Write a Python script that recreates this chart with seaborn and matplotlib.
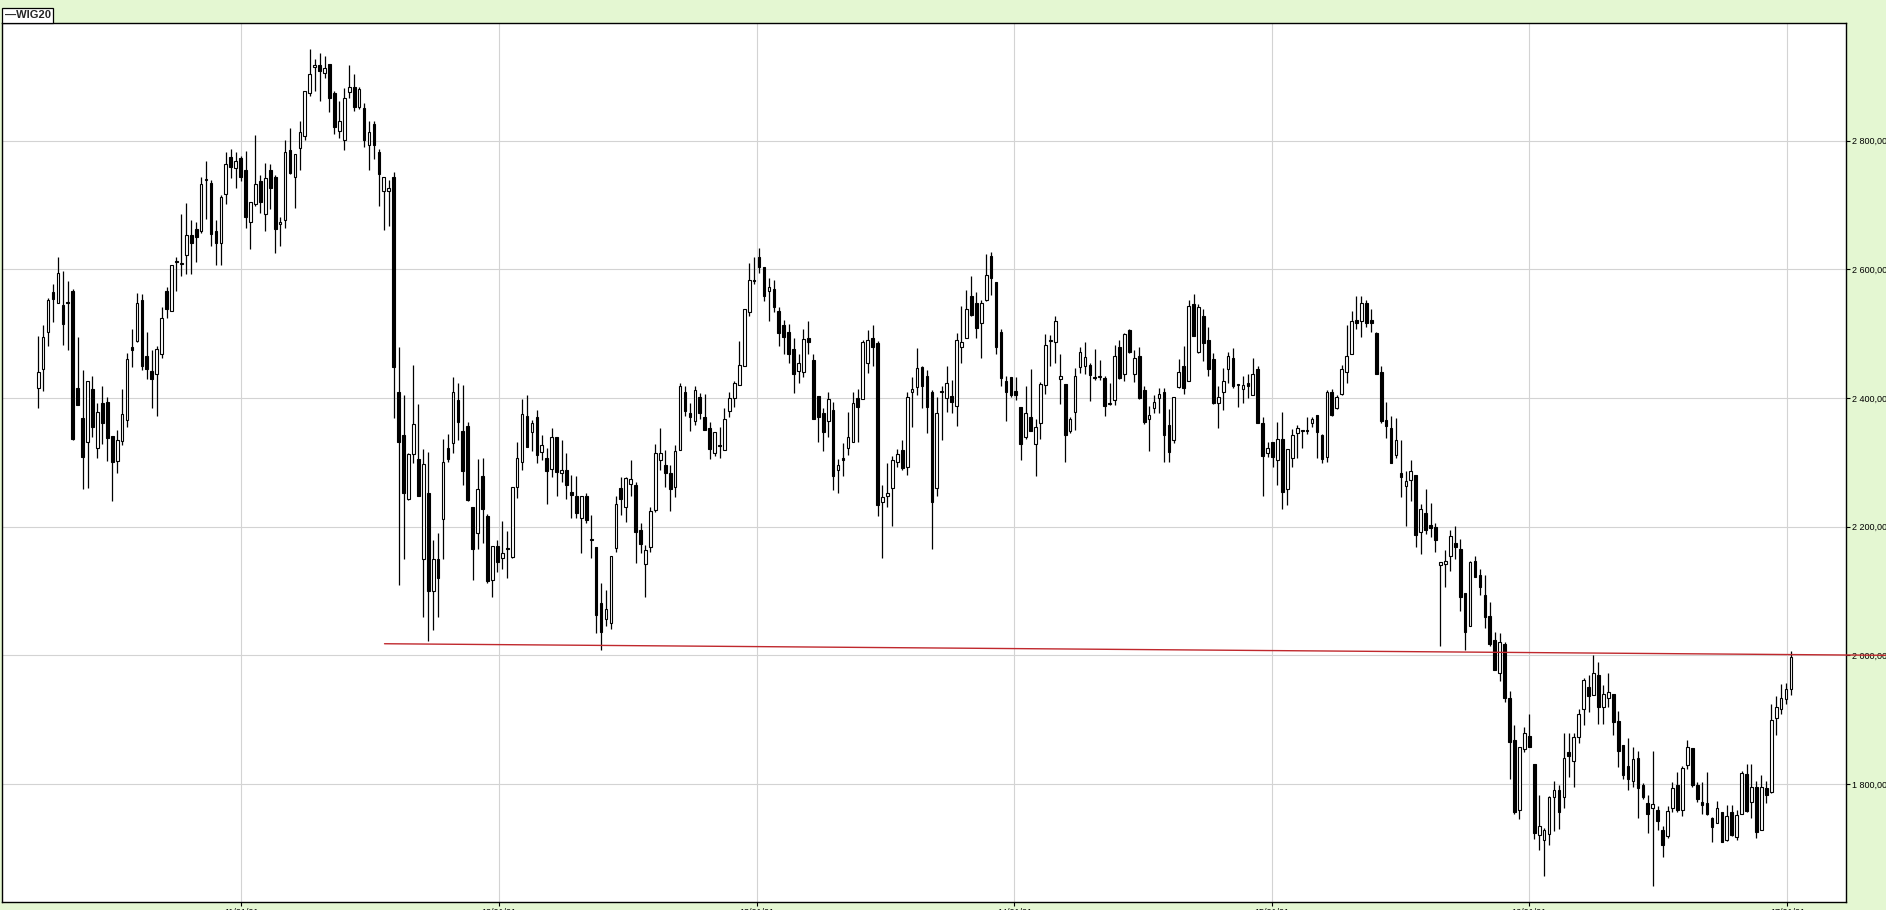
import numpy as np
import pandas as pd
import seaborn as sns
import matplotlib
matplotlib.use("Agg")
import matplotlib.pyplot as plt
import matplotlib.dates as mdates
from matplotlib.ticker import FuncFormatter, FixedLocator

# weekly WIG20 candles, first week ending 2010-03-19
first_week = "2010-03-19"

opens = [2416, 2445, 2503, 2565, 2548, 2544, 2550, 2567, 2416, 2369,
         2331, 2414, 2323, 2392, 2394, 2341, 2302, 2333, 2366, 2480,
         2488, 2552, 2466, 2442, 2437, 2468, 2567, 2536, 2613, 2608,
         2622, 2653, 2663, 2659, 2739, 2734, 2659, 2641, 2717, 2775,
         2758, 2773, 2754, 2673, 2702, 2737, 2686, 2754, 2743, 2670,
         2677, 2786, 2744, 2789, 2807, 2874, 2914, 2918, 2905, 2919,
         2874, 2815, 2801, 2875, 2883, 2852, 2851, 2793, 2826, 2783,
         2722, 2722, 2744, 2410, 2343, 2243, 2313, 2305, 2150, 2252,
         2100, 2150, 2212, 2322, 2330, 2397, 2348, 2357, 2231, 2190,
         2279, 2217, 2117, 2170, 2151, 2167, 2153, 2261, 2300, 2372,
         2347, 2370, 2316, 2307, 2289, 2339, 2283, 2288, 2254, 2247,
         2213, 2247, 2180, 2169, 2081, 2056, 2051, 2167, 2260, 2231,
         2267, 2265, 2195, 2142, 2169, 2226, 2304, 2296, 2283, 2262,
         2319, 2409, 2376, 2365, 2401, 2371, 2354, 2314, 2327, 2319,
         2380, 2400, 2421, 2450, 2533, 2584, 2620, 2603, 2566, 2570,
         2535, 2513, 2502, 2476, 2442, 2441, 2493, 2459, 2403, 2376,
         2365, 2382, 2288, 2306, 2323, 2332, 2400, 2398, 2455, 2493,
         2485, 2239, 2247, 2260, 2300, 2319, 2293, 2410, 2417, 2449,
         2434, 2410, 2260, 2409, 2400, 2403, 2387, 2480, 2494, 2559,
         2548, 2517, 2552, 2621, 2580, 2503, 2426, 2433, 2411, 2386,
         2339, 2371, 2328, 2361, 2420, 2488, 2487, 2429, 2422, 2349,
         2378, 2449, 2450, 2451, 2433, 2432, 2431, 2391, 2397, 2479,
         2438, 2506, 2437, 2465, 2412, 2367, 2384, 2400, 2409, 2358,
         2334, 2417, 2450, 2426, 2546, 2471, 2527, 2490, 2460, 2393,
         2410, 2445, 2463, 2420, 2414, 2424, 2405, 2445, 2361, 2314,
         2331, 2304, 2337, 2258, 2306, 2345, 2349, 2351, 2361, 2374,
         2342, 2308, 2410, 2384, 2407, 2441, 2469, 2521, 2520, 2547,
         2521, 2501, 2441, 2366, 2354, 2311, 2284, 2263, 2273, 2281,
         2191, 2221, 2203, 2200, 2140, 2142, 2154, 2175, 2166, 2097,
         2046, 2147, 2125, 2094, 2061, 2024, 1973, 2018, 1934, 1869,
         1759, 1854, 1874, 1831, 1721, 1713, 1722, 1780, 1790, 1780,
         1849, 1836, 1873, 1917, 1951, 1938, 1970, 1919, 1933, 1940,
         1898, 1860, 1828, 1805, 1841, 1798, 1770, 1763, 1759, 1728,
         1719, 1762, 1798, 1760, 1829, 1856, 1799, 1772, 1771, 1747,
         1740, 1756, 1713, 1756, 1717, 1754, 1815, 1772, 1796, 1729,
         1793, 1788, 1903, 1916, 1932, 1948]

highs = [2497, 2514, 2555, 2577, 2620, 2598, 2582, 2570, 2495, 2444,
         2427, 2435, 2393, 2418, 2402, 2341, 2351, 2414, 2470, 2507,
         2563, 2562, 2503, 2474, 2481, 2541, 2572, 2607, 2620, 2686,
         2703, 2677, 2673, 2744, 2769, 2739, 2676, 2715, 2783, 2787,
         2782, 2777, 2784, 2704, 2809, 2746, 2765, 2764, 2746, 2682,
         2801, 2820, 2779, 2831, 2878, 2942, 2927, 2937, 2932, 2919,
         2878, 2862, 2882, 2917, 2904, 2883, 2858, 2830, 2830, 2787,
         2744, 2739, 2751, 2480, 2405, 2315, 2452, 2391, 2320, 2316,
         2180, 2190, 2336, 2344, 2432, 2424, 2421, 2362, 2231, 2305,
         2306, 2220, 2170, 2179, 2209, 2193, 2261, 2331, 2398, 2404,
         2366, 2381, 2343, 2322, 2353, 2340, 2335, 2314, 2280, 2279,
         2247, 2253, 2218, 2169, 2113, 2102, 2155, 2248, 2277, 2277,
         2304, 2270, 2205, 2172, 2231, 2328, 2353, 2319, 2296, 2327,
         2424, 2418, 2392, 2419, 2408, 2407, 2362, 2347, 2355, 2384,
         2410, 2427, 2488, 2538, 2610, 2619, 2634, 2604, 2586, 2584,
         2542, 2521, 2515, 2494, 2468, 2507, 2520, 2469, 2403, 2384,
         2410, 2394, 2305, 2330, 2379, 2409, 2414, 2490, 2506, 2513,
         2488, 2265, 2299, 2310, 2320, 2335, 2410, 2433, 2478, 2450,
         2444, 2412, 2401, 2418, 2450, 2428, 2501, 2543, 2568, 2590,
         2565, 2552, 2624, 2627, 2581, 2507, 2434, 2433, 2433, 2386,
         2419, 2445, 2368, 2425, 2499, 2498, 2527, 2468, 2422, 2371,
         2446, 2480, 2487, 2455, 2476, 2459, 2434, 2423, 2483, 2490,
         2501, 2508, 2474, 2480, 2418, 2388, 2405, 2415, 2415, 2383,
         2402, 2460, 2481, 2552, 2562, 2546, 2538, 2511, 2470, 2418,
         2446, 2472, 2477, 2422, 2434, 2438, 2463, 2450, 2370, 2332,
         2332, 2362, 2378, 2321, 2352, 2358, 2350, 2371, 2371, 2374,
         2344, 2412, 2414, 2405, 2452, 2513, 2535, 2558, 2558, 2552,
         2538, 2503, 2450, 2394, 2372, 2369, 2334, 2286, 2303, 2281,
         2235, 2259, 2237, 2206, 2145, 2163, 2195, 2201, 2181, 2097,
         2147, 2154, 2134, 2125, 2083, 2037, 2034, 2021, 1944, 1891,
         1857, 1888, 1908, 1831, 1783, 1731, 1782, 1805, 1799, 1879,
         1879, 1879, 1917, 1965, 1970, 2000, 1989, 1954, 1973, 1940,
         1914, 1860, 1872, 1858, 1852, 1802, 1783, 1852, 1765, 1735,
         1766, 1803, 1818, 1828, 1869, 1856, 1803, 1803, 1818, 1748,
         1774, 1756, 1768, 1768, 1759, 1820, 1831, 1831, 1805, 1814,
         1805, 1925, 1936, 1955, 1957, 2007]

lows = [2384, 2411, 2481, 2518, 2548, 2483, 2474, 2335, 2389, 2258,
        2260, 2340, 2307, 2329, 2302, 2240, 2283, 2327, 2355, 2448,
        2487, 2443, 2430, 2384, 2372, 2463, 2525, 2535, 2567, 2590,
        2593, 2593, 2611, 2656, 2679, 2637, 2607, 2607, 2701, 2742,
        2727, 2738, 2664, 2632, 2698, 2687, 2659, 2694, 2626, 2637,
        2665, 2748, 2696, 2754, 2801, 2870, 2878, 2862, 2897, 2844,
        2810, 2805, 2785, 2866, 2847, 2850, 2790, 2754, 2772, 2698,
        2661, 2668, 2369, 2110, 2150, 2241, 2299, 2247, 2060, 2022,
        2040, 2060, 2150, 2300, 2315, 2334, 2265, 2240, 2117, 2165,
        2174, 2112, 2091, 2129, 2134, 2120, 2151, 2245, 2288, 2324,
        2317, 2299, 2304, 2236, 2277, 2247, 2269, 2243, 2213, 2213,
        2159, 2205, 2152, 2034, 2009, 2045, 2041, 2161, 2218, 2208,
        2247, 2143, 2159, 2090, 2160, 2223, 2288, 2262, 2225, 2246,
        2319, 2372, 2348, 2358, 2367, 2350, 2305, 2310, 2306, 2319,
        2371, 2386, 2420, 2450, 2527, 2578, 2594, 2551, 2520, 2533,
        2481, 2468, 2455, 2408, 2423, 2432, 2469, 2368, 2331, 2318,
        2340, 2257, 2252, 2278, 2311, 2332, 2331, 2398, 2439, 2450,
        2216, 2151, 2231, 2201, 2292, 2288, 2280, 2355, 2404, 2384,
        2345, 2166, 2247, 2334, 2379, 2377, 2357, 2455, 2493, 2527,
        2493, 2462, 2551, 2560, 2468, 2419, 2365, 2401, 2397, 2304,
        2336, 2348, 2279, 2336, 2406, 2450, 2455, 2391, 2300, 2346,
        2350, 2439, 2437, 2396, 2428, 2428, 2372, 2389, 2389, 2429,
        2427, 2470, 2425, 2398, 2359, 2317, 2376, 2376, 2300, 2300,
        2330, 2415, 2407, 2426, 2496, 2470, 2457, 2435, 2391, 2354,
        2381, 2424, 2415, 2386, 2393, 2400, 2404, 2361, 2248, 2308,
        2293, 2265, 2227, 2233, 2292, 2306, 2322, 2344, 2355, 2306,
        2299, 2301, 2372, 2383, 2405, 2423, 2468, 2508, 2495, 2510,
        2503, 2437, 2361, 2338, 2299, 2306, 2246, 2201, 2240, 2169,
        2157, 2189, 2184, 2160, 2014, 2106, 2131, 2149, 2069, 2008,
        2046, 2121, 2093, 2042, 2014, 1977, 1960, 1928, 1807, 1754,
        1745, 1849, 1857, 1714, 1697, 1657, 1705, 1727, 1730, 1763,
        1811, 1796, 1864, 1891, 1912, 1938, 1893, 1893, 1919, 1876,
        1826, 1807, 1790, 1796, 1747, 1777, 1723, 1642, 1729, 1686,
        1716, 1756, 1757, 1750, 1823, 1796, 1772, 1753, 1751, 1710,
        1739, 1710, 1711, 1719, 1713, 1753, 1756, 1747, 1716, 1728,
        1771, 1786, 1876, 1909, 1924, 1938]

closes = [2440, 2495, 2552, 2554, 2594, 2515, 2547, 2336, 2389, 2308,
          2427, 2355, 2379, 2361, 2338, 2300, 2334, 2375, 2461, 2475,
          2548, 2450, 2445, 2430, 2476, 2524, 2538, 2607, 2611, 2609,
          2654, 2641, 2650, 2733, 2740, 2655, 2641, 2713, 2764, 2759,
          2769, 2743, 2681, 2704, 2733, 2704, 2742, 2726, 2663, 2674,
          2783, 2750, 2779, 2814, 2877, 2904, 2918, 2908, 2913, 2866,
          2822, 2830, 2866, 2883, 2852, 2880, 2801, 2814, 2793, 2748,
          2744, 2726, 2448, 2331, 2252, 2313, 2360, 2247, 2298, 2100,
          2150, 2120, 2300, 2305, 2410, 2362, 2287, 2242, 2165, 2258,
          2227, 2115, 2170, 2145, 2159, 2165, 2261, 2306, 2375, 2324,
          2361, 2312, 2327, 2286, 2339, 2285, 2288, 2265, 2250, 2222,
          2247, 2211, 2179, 2062, 2037, 2072, 2155, 2235, 2243, 2275,
          2274, 2191, 2173, 2163, 2224, 2314, 2314, 2283, 2259, 2318,
          2419, 2380, 2371, 2412, 2376, 2351, 2320, 2347, 2325, 2368,
          2400, 2424, 2451, 2538, 2584, 2582, 2603, 2558, 2573, 2542,
          2501, 2495, 2468, 2438, 2454, 2491, 2487, 2368, 2370, 2347,
          2398, 2278, 2296, 2304, 2339, 2392, 2386, 2487, 2490, 2479,
          2234, 2246, 2253, 2304, 2313, 2291, 2402, 2414, 2447, 2418,
          2386, 2239, 2377, 2411, 2423, 2394, 2490, 2487, 2538, 2529,
          2509, 2548, 2591, 2586, 2480, 2431, 2409, 2405, 2405, 2328,
          2376, 2348, 2355, 2422, 2483, 2489, 2520, 2435, 2342, 2367,
          2434, 2472, 2464, 2436, 2431, 2432, 2388, 2393, 2466, 2431,
          2500, 2472, 2463, 2400, 2362, 2373, 2394, 2407, 2342, 2316,
          2402, 2440, 2415, 2543, 2496, 2541, 2485, 2445, 2393, 2401,
          2427, 2465, 2418, 2420, 2420, 2418, 2438, 2361, 2310, 2323,
          2309, 2337, 2254, 2321, 2342, 2354, 2349, 2349, 2368, 2347,
          2305, 2409, 2373, 2402, 2445, 2465, 2520, 2516, 2547, 2516,
          2516, 2437, 2364, 2357, 2299, 2334, 2277, 2271, 2286, 2187,
          2227, 2195, 2198, 2179, 2145, 2147, 2186, 2169, 2091, 2037,
          2145, 2121, 2106, 2060, 2018, 1977, 2021, 1934, 1866, 1756,
          1857, 1879, 1858, 1723, 1735, 1728, 1780, 1791, 1756, 1841,
          1843, 1873, 1909, 1962, 1936, 1973, 1919, 1940, 1943, 1897,
          1851, 1814, 1807, 1839, 1793, 1780, 1753, 1769, 1743, 1705,
          1758, 1793, 1759, 1825, 1857, 1799, 1776, 1768, 1753, 1733,
          1762, 1710, 1750, 1721, 1751, 1817, 1758, 1796, 1725, 1796,
          1783, 1900, 1919, 1934, 1948, 1997]

# support line drawn by hand on the chart
trend_dates = ["2011-07-23", "2017-05-21"]
trend_values = [2018, 2000]

y_ticks = [1800, 2000, 2200, 2400, 2600, 2800]
x_ticks = ["2011-01-01", "2012-01-01", "2013-01-01", "2014-01-01",
           "2015-01-01", "2016-01-01", "2017-01-01"]

df = pd.DataFrame({"open": opens, "high": highs, "low": lows, "close": closes})
df["date"] = pd.date_range(first_week, periods=len(df), freq="7D")
df["up"] = df["close"] >= df["open"]

sns.set_style("white")
plt.rcParams["font.family"] = ["Liberation Sans", "DejaVu Sans"]

bg = "#E4F7D2"
fig = plt.figure(figsize=(18.86, 9.10), dpi=100, facecolor=bg)
ax = fig.add_axes([0.0008, 0.0088, 0.978, 0.9659])
ax.set_facecolor("white")

# wicks
ax.vlines(df["date"], df["low"], df["high"], color="black", lw=0.9, zorder=2)

# bodies
body_bottom = df[["open", "close"]].min(axis=1)
body_height = (df["close"] - df["open"]).abs().clip(lower=2.0)
face = np.where(df["up"], "white", "black")
ax.bar(df["date"], body_height, bottom=body_bottom, width=3.8,
       color=face, edgecolor="black", linewidth=0.8, zorder=3)

# support line
ax.plot(pd.to_datetime(trend_dates), trend_values, color="#C0282D", lw=1.0,
        zorder=4, clip_on=False)

ax.set_xlim(pd.Timestamp("2010-01-26"), pd.Timestamp("2017-03-25"))
ax.set_ylim(1616.5, 2983)

ax.yaxis.tick_right()
ax.yaxis.set_major_locator(FixedLocator(y_ticks))
ax.yaxis.set_major_formatter(FuncFormatter(
    lambda v, p: f"{v:,.2f}".replace(",", " ").replace(".", ",")))
ax.set_xticks(pd.to_datetime(x_ticks))
ax.xaxis.set_major_formatter(mdates.DateFormatter("%y/%m/%d"))

ax.tick_params(axis="y", which="major", direction="out", length=3, width=0.8,
               pad=1.5, labelsize=6.5, colors="black", right=True, left=False)
ax.tick_params(axis="x", which="major", direction="out", length=3, width=0.8,
               pad=1.0, labelsize=6.5, colors="black", bottom=True)

ax.grid(True, color="#D3D3D3", lw=0.8, zorder=0)
ax.set_axisbelow(True)
for s in ax.spines.values():
    s.set_color("black")
    s.set_linewidth(1.0)
ax.set_xlabel("")
ax.set_ylabel("")

# series label box
fig.text(0.0025, 1 - 15.5 / 910, "\u2014WIG20", fontsize=8, fontweight="bold",
         va="center", ha="left",
         bbox=dict(boxstyle="square,pad=0.2", fc="white", ec="black", lw=0.9))

fig.savefig("out.png", dpi=100, facecolor=bg)
